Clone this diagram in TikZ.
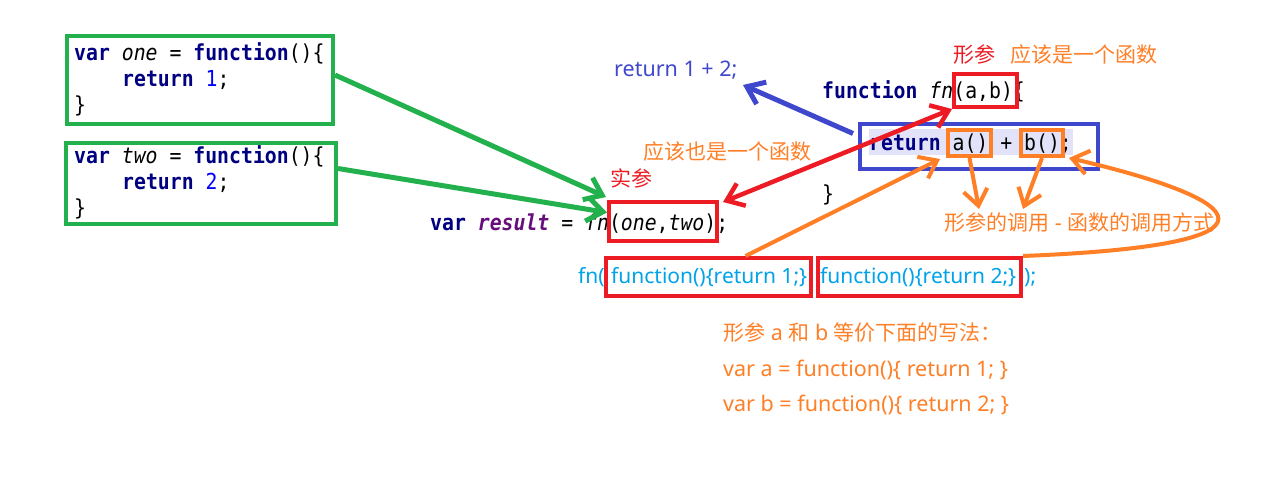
\documentclass[tikz,border=0pt]{standalone}
\usepackage{fontspec}
\usetikzlibrary{arrows.meta}
\newfontfamily\cjk{Noto Sans CJK SC}
\newfontfamily\latin{Noto Sans}
\newfontfamily\code{DejaVu Sans Mono}[FakeStretch=0.9,BoldFont={DejaVu Sans Mono Bold},ItalicFont={DejaVu Sans Mono Oblique},BoldItalicFont={DejaVu Sans Mono Bold Oblique}]
\definecolor{pgreen}{HTML}{22B14C}
\definecolor{pred}{HTML}{ED1C24}
\definecolor{pblue}{HTML}{3F48CC}
\definecolor{porange}{HTML}{FF7F27}
\definecolor{psky}{HTML}{00A2E8}
\definecolor{kwblue}{HTML}{000080}
\definecolor{kwpurple}{HTML}{660E7A}
\definecolor{numblue}{HTML}{0000FF}
\definecolor{hl}{HTML}{E2E2F8}
\newcommand\kw[1]{{\bfseries\color{kwblue}#1}}
\newcommand\idf[1]{{\itshape #1}}
\newcommand\lt[1]{{\latin\fontsize{21.5}{24}\selectfont #1}}
\tikzset{
  codetxt/.style={anchor=base west, inner sep=0pt, font=\code\fontsize{22}{24}\selectfont},
  sanstxt/.style={anchor=base west, inner sep=0pt, font=\cjk\fontsize{21}{24}\selectfont},
  lattxt/.style={anchor=base west, inner sep=0pt, font=\latin\fontsize{21.5}{24}\selectfont},
  skytxt/.style={anchor=base west, inner sep=0pt, text=psky, font=\latin\fontsize{21}{24}\selectfont},
  frame/.style={draw, inner sep=0pt, line width=4pt},
  gbox/.style={frame, draw=pgreen},
  rbox/.style={frame, draw=pred},
  bbox/.style={frame, draw=pblue},
  obox/.style={frame, draw=porange},
  barb/.style={-{Straight Barb[length=16pt,width=24pt]}},
  dbarb/.style={{Straight Barb[length=16pt,width=24pt]}-{Straight Barb[length=16pt,width=24pt]}},
  garrow/.style={barb, draw=pgreen, line width=5pt},
}
\begin{document}
\begin{tikzpicture}[x=1pt,y=-1pt]
\useasboundingbox[fill=white] (0,0) rectangle (1271,479);
% highlight
\node[fill=hl, inner sep=0pt, minimum width=204pt, minimum height=26pt] (hlbar) at (971,142) {};
% code texts
\node[codetxt] (c11) at (74,60) {\kw{var} \idf{one} = \kw{function}()\{};
\node[codetxt] (c12) at (122,86) {\kw{return} {\color{numblue}1};};
\node[codetxt] (c13) at (74,112) {\}};
\node[codetxt] (c21) at (74,163) {\kw{var} \idf{two} = \kw{function}()\{};
\node[codetxt] (c22) at (122,189) {\kw{return} {\color{numblue}2};};
\node[codetxt] (c23) at (74,215) {\}};
\node[codetxt] (cres) at (430,230) {\kw{var} {\bfseries\itshape\color{kwpurple}result} = \idf{fn}(\idf{one},\idf{two});};
\node[codetxt] (cfn) at (822,98) {\kw{function} \idf{fn}(a,b)\{};
\node[codetxt] (cret) at (869,150) {\kw{return} a() + b();};
\node[codetxt] (cend) at (822,201) {\}};
% sans texts
\node[lattxt, text=pblue] (ret12) at (614,76) {return 1 + 2;};
\node[sanstxt, text=pred] (xingcan) at (953,62) {形参};
\node[sanstxt, text=porange] (yinggai) at (1010,62) {应该是一个函数};
\node[sanstxt, text=porange] (yinggaiye) at (643,159) {应该也是一个函数};
\node[sanstxt, text=pred] (shican) at (610,186) {实参};
\node[sanstxt, text=porange] (xcall) at (944,230) {形参的调用\lt{ - }函数的调用方式};
\node[skytxt] (sfn) at (578,283) {fn(};
\node[skytxt] (sf1) at (611,283) {function()\{return 1;\}};
\node[skytxt] (sf2) at (820,283) {function()\{return 2;\}};
\node[skytxt] (sclose) at (1024,283) {);};
\node[sanstxt, text=porange] (o1) at (723,340) {形参\lt{ a }和\lt{ b }等价下面的写法：};
\node[lattxt, text=porange] (o2) at (723,376) {var a = function()\{ return 1; \}};
\node[lattxt, text=porange] (o3) at (723,411) {var b = function()\{ return 2; \}};
% boxes
\node[gbox, minimum width=266pt, minimum height=88pt] (boxone) at (200,80) {};
\node[gbox, minimum width=270pt, minimum height=81pt] (boxtwo) at (201,183.5) {};
\node[bbox, minimum width=238pt, minimum height=45pt] (blue) at (979,146.5) {};
\node[rbox, minimum width=63pt, minimum height=33pt] (ab) at (985.5,90.5) {};
\node[obox, minimum width=43pt, minimum height=26pt] (abox) at (969.5,143) {};
\node[obox, minimum width=42pt, minimum height=26pt] (bbx) at (1042,143) {};
\node[rbox, minimum width=108pt, minimum height=39pt] (onetwo) at (663,221.5) {};
\node[rbox, minimum width=205pt, minimum height=38pt] (s1) at (708.5,277) {};
\node[rbox, minimum width=203pt, minimum height=38pt] (s2) at (919.5,277) {};
% free ends
\coordinate (tipa) at (979,209);
\coordinate (tipb) at (1023,209);
\coordinate (tipblue) at (743,85);
% connectors
\draw[garrow] ([yshift=5pt]boxone.east) -- ([xshift=-1pt,yshift=3pt]onetwo.north west);
\draw[garrow] ([yshift=15pt]boxtwo.east) -- ([yshift=9pt]onetwo.west);
\draw[barb, draw=pblue, line width=5pt] ([xshift=-5pt,yshift=13pt]blue.west) -- (tipblue);
\draw[dbarb, draw=pred, line width=4.5pt] ([xshift=4pt,yshift=-2pt]onetwo.north east) -- (ab.south west);
\draw[barb, draw=porange, line width=4pt] ([xshift=37pt]s1.north) -- ([xshift=-6pt,yshift=-1pt]abox.south west);
\draw[barb, draw=porange, line width=4pt] (abox.south) -- (tipa);
\draw[barb, draw=porange, line width=4pt] (bbx.south) -- (tipb);
\draw[barb, draw=porange, line width=4pt] (s2.north east) .. controls (1300,245) and (1250,200) .. ([xshift=4pt]bbx.south east);
\end{tikzpicture}
\end{document}
